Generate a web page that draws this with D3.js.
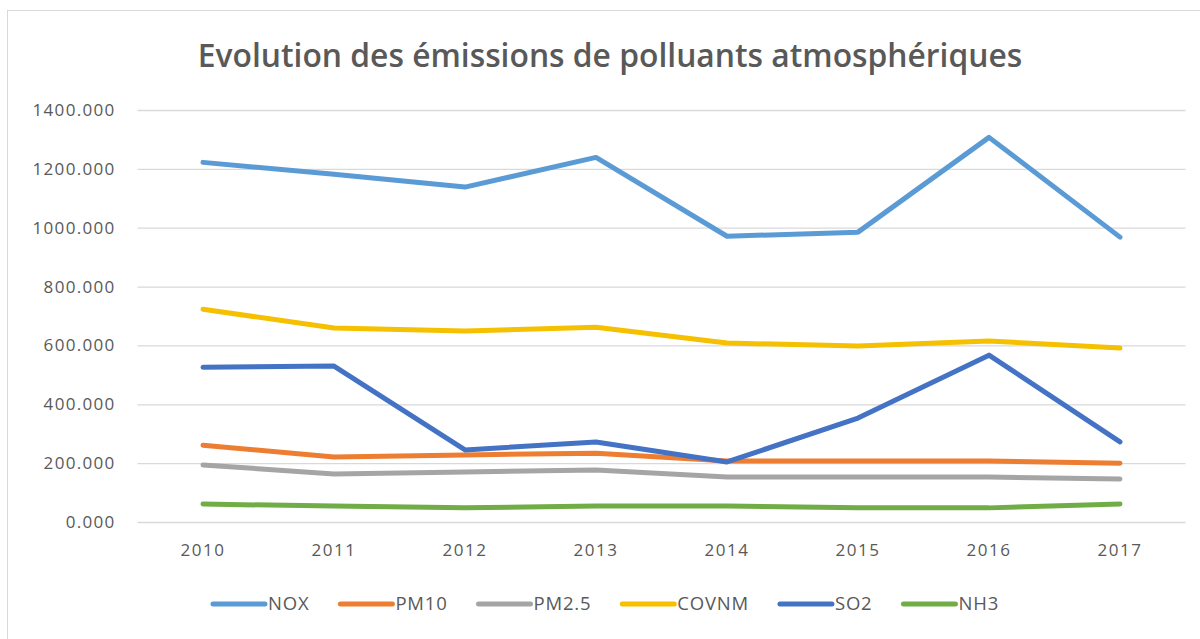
<!DOCTYPE html>
<html>
<head>
<meta charset="utf-8">
<script src="https://cdn.jsdelivr.net/npm/d3@7"></script>
<style>
  body { margin: 0; background: #fff; }
  svg { display: block; }
</style>
</head>
<body>
<div id="chart"></div>
<script>
// data
var years = ["2010", "2011", "2012", "2013", "2014", "2015", "2016", "2017"];
var seriesNames = ["NOX", "PM10", "PM2.5", "COVNM", "SO2", "NH3"];
var nox   = [1222, 1182, 1138, 1239, 971, 985, 1307, 968];
var pm10  = [261, 221, 228, 234, 207, 207, 207, 200];
var pm25  = [194, 163, 170, 177, 153, 153, 153, 146];
var covnm = [723, 659, 649, 662, 608, 598, 615, 591];
var so2   = [526, 530, 245, 272, 204, 353, 567, 272];
var nh3   = [61, 54, 48, 54, 54, 48, 48, 61];
var yTicks = [0, 200, 400, 600, 800, 1000, 1200, 1400];
var colors = ["#5B9BD5", "#ED7D31", "#A5A5A5", "#F5C000", "#4472C4", "#70AD47"];
var titleText = "Evolution des émissions de polluants atmosphériques";

var attrs = {
    svgWidth: 1200,
    svgHeight: 639,
    plotLeft: 137.5,
    plotRight: 1185.5,
    plotTop: 110,
    plotBottom: 522,
    font: "'Open Sans', 'Noto Sans', sans-serif",
    textFill: '#595959',
    gridColor: '#D9D9D9'
};

var values = [nox, pm10, pm25, covnm, so2, nh3];
var series = seriesNames.map(function (name, i) {
    return { name: name, color: colors[i], values: values[i] };
});

var svg = d3.select('#chart').append('svg')
    .attr('width', attrs.svgWidth)
    .attr('height', attrs.svgHeight)
    .attr('font-family', attrs.font);

// chart area border (top + left visible in reference)
svg.append('rect')
    .attr('x', 7.5).attr('y', 10.5)
    .attr('width', 1210).attr('height', 640)
    .attr('fill', 'none')
    .attr('stroke', attrs.gridColor);

/* ############ SCALES ############ */
var x = d3.scaleBand()
    .domain(years)
    .range([attrs.plotLeft, attrs.plotRight]);

var y = d3.scaleLinear()
    .domain([0, 1400])
    .range([attrs.plotBottom, attrs.plotTop]);

var cx = function (d) { return x(d) + x.bandwidth() / 2; };

/* ############ TITLE ############ */
var title = svg.append('text')
    .attr('x', 610)
    .attr('y', 67)
    .attr('text-anchor', 'middle')
    .attr('fill', attrs.textFill)
    .attr('font-size', 28)
    .attr('font-weight', 600)
    .text(titleText);
// fit the title width to the reference (~825px)
var tw = title.node().getComputedTextLength();
title.attr('font-size', 28 * 825 / tw);

/* ############ GRID + Y AXIS ############ */
var yAxis = d3.axisLeft(y)
    .tickValues(yTicks)
    .tickSize(-(attrs.plotRight - attrs.plotLeft))
    .tickPadding(22)
    .tickFormat(d3.format('.3f'));

var gy = svg.append('g')
    .attr('transform', 'translate(' + attrs.plotLeft + ',0)')
    .call(yAxis);
gy.select('.domain').remove();
gy.selectAll('.tick line').attr('stroke', attrs.gridColor).attr('stroke-width', 1.3);
gy.selectAll('.tick text')
    .attr('fill', attrs.textFill)
    .attr('font-size', 17)
    .attr('letter-spacing', 1.3)
    .attr('font-family', attrs.font);

/* ############ X AXIS ############ */
var xAxis = d3.axisBottom(x).tickSize(0).tickPadding(22);
var gx = svg.append('g')
    .attr('transform', 'translate(0,' + attrs.plotBottom + ')')
    .call(xAxis);
gx.select('.domain').remove();
gx.selectAll('.tick text')
    .attr('fill', attrs.textFill)
    .attr('font-size', 17)
    .attr('letter-spacing', 1.5)
    .attr('font-family', attrs.font);

/* ############ LINES ############ */
var line = d3.line()
    .x(function (d, i) { return cx(years[i]); })
    .y(function (d) { return y(d); });

svg.append('g').selectAll('path')
    .data(series)
    .join('path')
    .attr('d', function (d) { return line(d.values); })
    .attr('fill', 'none')
    .attr('stroke', function (d) { return d.color; })
    .attr('stroke-width', 5)
    .attr('stroke-linejoin', 'round')
    .attr('stroke-linecap', 'round');

/* ############ LEGEND ############ */
var legend = svg.append('g');
var symW = 52, symGap = 3, itemGap = 31, legendY = 604;
var items = legend.selectAll('g')
    .data(series)
    .join('g');
items.append('line')
    .attr('x1', 0).attr('x2', symW)
    .attr('y1', 0).attr('y2', 0)
    .attr('stroke', function (d) { return d.color; })
    .attr('stroke-width', 5)
    .attr('stroke-linecap', 'round');
items.append('text')
    .attr('x', symW + symGap)
    .attr('dy', '0.35em')
    .attr('fill', attrs.textFill)
    .attr('font-size', 18.5)
    .attr('letter-spacing', 0.8)
    .text(function (d) { return d.name; });

var offset = 0, widths = [];
items.each(function () {
    var w = symW + symGap + d3.select(this).select('text').node().getComputedTextLength();
    widths.push(w);
});
var total = d3.sum(widths) + itemGap * (widths.length - 1);
var start = 606 - total / 2;
items.attr('transform', function (d, i) {
    var t = 'translate(' + (start + offset) + ',' + legendY + ')';
    offset += widths[i] + itemGap;
    return t;
});
</script>
</body>
</html>
